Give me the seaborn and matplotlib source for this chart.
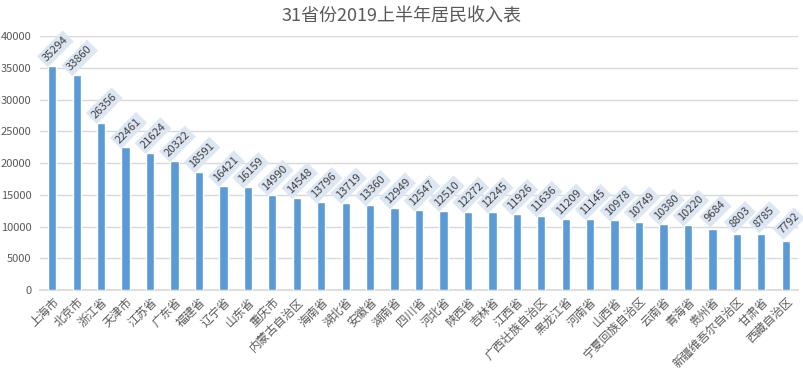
import matplotlib
matplotlib.use('Agg')
import matplotlib.pyplot as plt
import seaborn as sns
import pandas as pd

provinces = ["上海市", "北京市", "浙江省", "天津市", "江苏省", "广东省", "福建省", "辽宁省",
             "山东省", "重庆市", "内蒙古自治区", "海南省", "湖北省", "安徽省", "湖南省", "四川省",
             "河北省", "陕西省", "吉林省", "江西省", "广西壮族自治区", "黑龙江省", "河南省", "山西省",
             "宁夏回族自治区", "云南省", "青海省", "贵州省", "新疆维吾尔自治区", "甘肃省", "西藏自治区"]
income = [35294, 33860, 26356, 22461, 21624, 20322, 18591, 16421,
          16159, 14990, 14548, 13796, 13719, 13360, 12949, 12547,
          12510, 12272, 12245, 11926, 11636, 11209, 11145, 10978,
          10749, 10380, 10220, 9684, 8803, 8785, 7792]
y_ticks = [0, 5000, 10000, 15000, 20000, 25000, 30000, 35000, 40000]

df = pd.DataFrame({"province": provinces, "income": income})

sns.set_theme(style="white")
plt.rcParams['font.family'] = ['Noto Sans CJK SC', 'DejaVu Sans']

fig = plt.figure(figsize=(8.04, 3.79), dpi=100)
ax = fig.add_axes([0.0498, 0.2348, 0.9427, 0.6702])

sns.barplot(x="province", y="income", data=df, color="#5b9bd5", width=0.34,
            saturation=1, ax=ax, zorder=3)

ax.set_ylim(0, 40000)
ax.set_yticks(y_ticks)
ax.set_xlim(-0.5, len(provinces) - 0.5)
ax.grid(axis="y", color="#d9d9d9", linewidth=1, zorder=0)
for s in ["top", "right", "left"]:
    ax.spines[s].set_visible(False)
ax.spines["bottom"].set_color("#d9d9d9")
ax.tick_params(axis="both", length=0, colors="#595959", labelsize=8)
ax.tick_params(axis="x", labelsize=8.5)
ax.tick_params(axis="y", pad=6)
plt.setp(ax.get_xticklabels(), rotation=45, ha="right", rotation_mode="anchor")
ax.set_xlabel("")
ax.set_ylabel("")

# rotated data labels with light box
for i, v in enumerate(income):
    ax.annotate(str(v), xy=(i, v), xytext=(3, 17), textcoords="offset pixels",
                rotation=45, ha="center", va="center", fontsize=8, color="#404040",
                bbox=dict(boxstyle="square,pad=0.25", fc="#dde7f3", ec="none"),
                zorder=4)

fig.suptitle("31省份2019上半年居民收入表", x=0.5, y=0.98, fontsize=13, color="#595959")

plt.savefig("out.png", dpi=100)
plt.close()
